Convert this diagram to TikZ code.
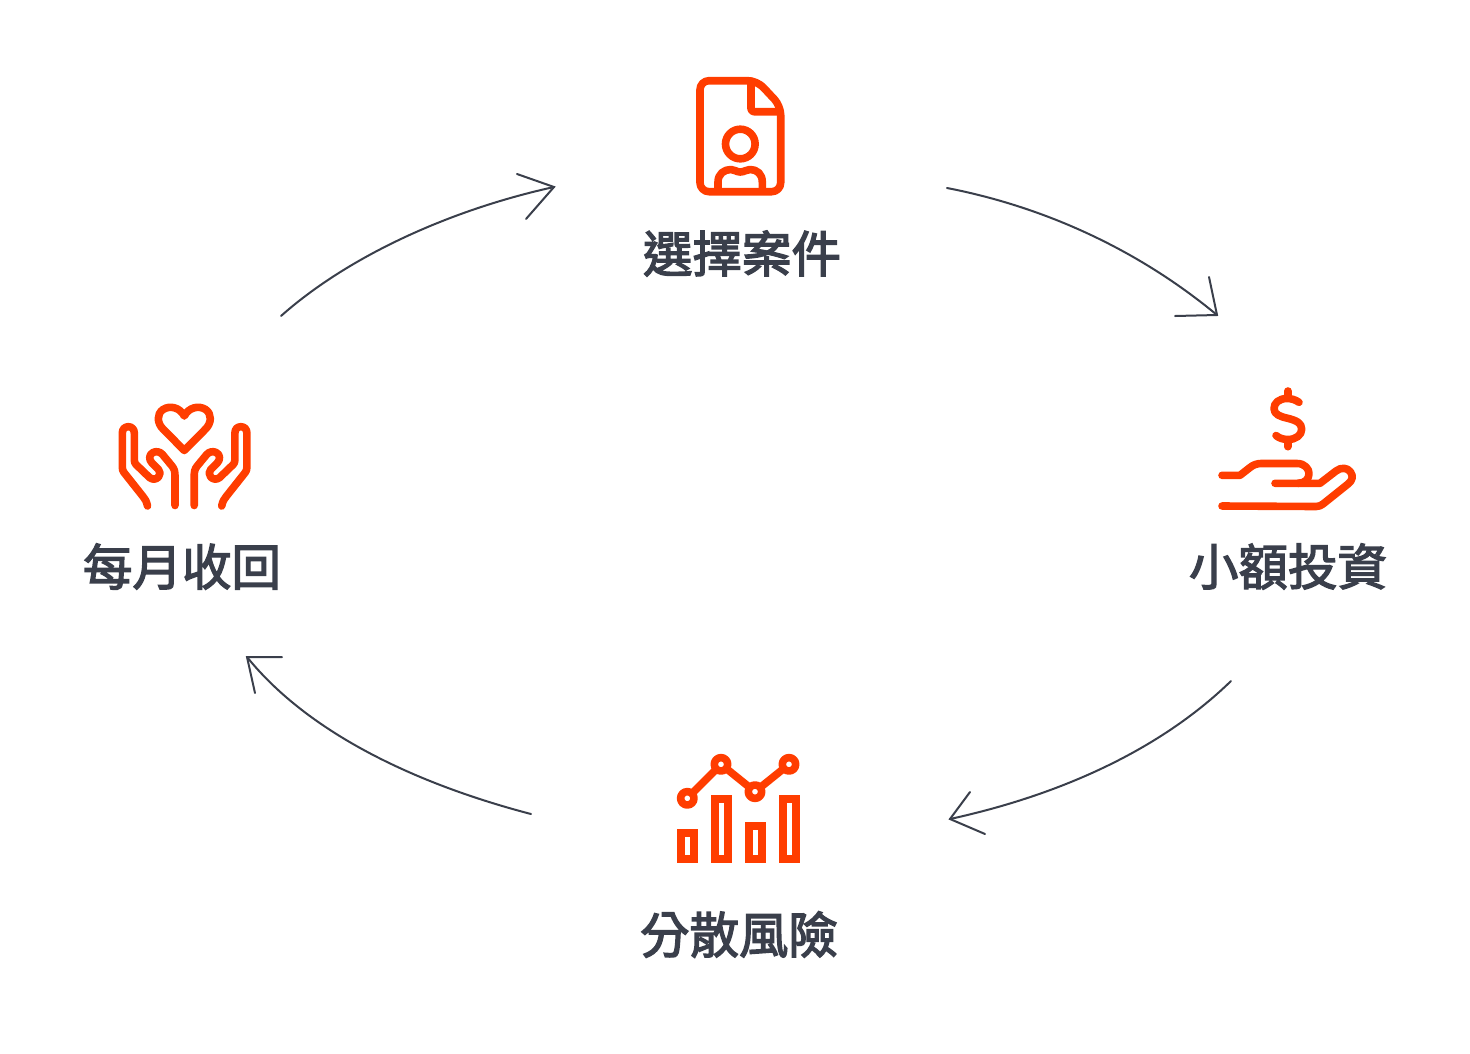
\documentclass[tikz,border=0pt]{standalone}
\usepackage{fontspec}
\newfontfamily\cjk[FakeBold=2.8]{Noto Sans CJK TC}
\definecolor{iconred}{HTML}{FF3D00}
\definecolor{ink}{HTML}{3A3F4B}
\tikzset{
  icon/.style={draw=iconred,line width=7.6pt,line cap=round,line join=round},
  flow/.style={draw=ink,line width=2pt,line cap=round,line join=round},
  tip/.style={draw=ink,line width=2pt,line cap=round,line join=miter},
  lbl/.style={font=\cjk\fontsize{49.5pt}{49.5pt}\selectfont,text=ink,inner sep=0pt,anchor=center}
}
\begin{document}
\begin{tikzpicture}[x=1pt,y=-1pt]
\useasboundingbox (0,0) rectangle (1470,1053);
\node[lbl] (a) at (742,253.5) {選擇案件};
\node[lbl] (b) at (1288,566.5) {小額投資};
\node[lbl] (c) at (739,934.5) {分散風險};
\node[lbl] (d) at (182,566.5) {每月收回};
% document icon
\draw[icon,rounded corners=9pt] (730,80.7) -- (757,80.7) -- (780.7,106) -- (780.7,191.7) -- (700,191.7) -- (700,80.7) -- cycle;
\draw[icon,rounded corners=3pt] (751,81) -- (751,111.7) -- (780,111.7);
\draw[icon] (740.3,144) circle (14.8pt);
\draw[icon] (718,190) -- (718,182) .. controls (718,174) and (724,169.5) .. (731,169.5) .. controls (735,169.5) and (736,172) .. (740.3,172) .. controls (744.5,172) and (746,169.5) .. (750,169.5) .. controls (757,169.5) and (762.3,174) .. (762.3,182) -- (762.3,190);
% money icon
\draw[icon] (1287.7,391) -- (1287.7,398);
\draw[icon] (1287.7,440) -- (1287.7,446.7);
\draw[icon] (1299,402.3) .. controls (1295,399.5) and (1291,398.5) .. (1287,398.5) .. controls (1279,398.5) and (1274,403) .. (1274,408.5) .. controls (1274,414.5) and (1280,416.5) .. (1287.7,418.3) .. controls (1296,420.3) and (1301.7,423) .. (1301.7,429) .. controls (1301.7,435) and (1296,439.5) .. (1288,439.5) .. controls (1283,439.5) and (1279,438) .. (1276,435.5);
\draw[icon] (1222,475.3) -- (1240,475.3) -- (1250,467.5) .. controls (1253,465) and (1257,463.5) .. (1261,463.5) -- (1297,463.5) .. controls (1305,463.5) and (1309,469) .. (1309,473.5) .. controls (1309,479) and (1305,483.3) .. (1298,483.3) -- (1275,483.3);
\draw[icon] (1298,483.3) -- (1320,483.3) -- (1336,471) .. controls (1341,467) and (1347.5,467.5) .. (1350.5,472) .. controls (1353.5,476) and (1352.5,480.5) .. (1348,484) -- (1323,504) .. controls (1321,505.5) and (1319,506.5) .. (1316,506.5) -- (1222,506);
% chart icon
\draw[icon] (687.3,798.3) -- (721,764.3) -- (755,791.7) -- (789,764.3);
\foreach \cx/\cy in {687.3/798.3,721/764.3,755/791.7,789/764.3}
  \fill[white] (\cx,\cy) circle (6.5pt);
\foreach \cx/\cy in {687.3/798.3,721/764.3,755/791.7,789/764.3}
  \draw[icon] (\cx,\cy) circle (6.7pt);
\draw[icon,line join=miter] (681,833) rectangle (693.8,859);
\draw[icon,line join=miter] (714.8,798.7) rectangle (728,859);
\draw[icon,line join=miter] (748.8,826) rectangle (762,859);
\draw[icon,line join=miter] (782.8,798.7) rectangle (796,859);
% hands icon
\draw[icon] (184.3,450.5) -- (163,429) .. controls (157,423) and (156.5,414) .. (163,409.5) .. controls (170,405) and (180,407.5) .. (184.3,416) .. controls (188.6,407.5) and (198.6,405) .. (205.6,409.5) .. controls (212.1,414) and (211.6,423) .. (205.6,429) -- cycle;
\foreach \xs/\off in {1/0,-1/369.2}{
\begin{scope}[xshift=\off pt,xscale=\xs]
\draw[icon] (147.5,506) .. controls (146.5,501) and (145,499) .. (143,496.5) -- (124,472.5) .. controls (122.8,471) and (122.3,469.5) .. (122.3,467) -- (122.3,433) .. controls (122.3,429) and (125,426.7) .. (128.3,426.7) .. controls (131.7,426.7) and (134.3,429) .. (134.3,433) -- (134.3,460) .. controls (134.3,462) and (135,463.5) .. (136,464.5) -- (149.5,477.5) .. controls (152.5,480) and (156,479.5) .. (158.5,477) .. controls (160.5,474.5) and (160.5,471.5) .. (158.5,469.5) -- (152,463) .. controls (148.5,459.5) and (149,454.5) .. (153,452.5) .. controls (156,451) and (160,451.5) .. (162.5,454.5) -- (172,466) .. controls (174.5,469) and (175,472) .. (175,476) -- (175,505.5);
\end{scope}}
% arrows
\coordinate (p1) at (281,316); \coordinate (q1) at (554,187);
\coordinate (p2) at (947,188); \coordinate (q2) at (1217,315);
\coordinate (p3) at (1231,681); \coordinate (q3) at (950,819);
\coordinate (p4) at (531,814); \coordinate (q4) at (247,657);
\draw[flow] (p1) .. controls (345,259) and (445,211) .. (q1);
\draw[tip] (517,174) -- (q1) -- (526,219);
\draw[flow] (p2) .. controls (1040,206) and (1135,247) .. (q2);
\draw[tip] (1209,277) -- (q2) -- (1175,316);
\draw[flow] (p3) .. controls (1160,750) and (1060,795) .. (q3);
\draw[tip] (970,792) -- (q3) -- (985,834);
\draw[flow] (p4) .. controls (420,785) and (310,735) .. (q4);
\draw[tip] (282,657) -- (q4) -- (255,693);
\end{tikzpicture}
\end{document}
